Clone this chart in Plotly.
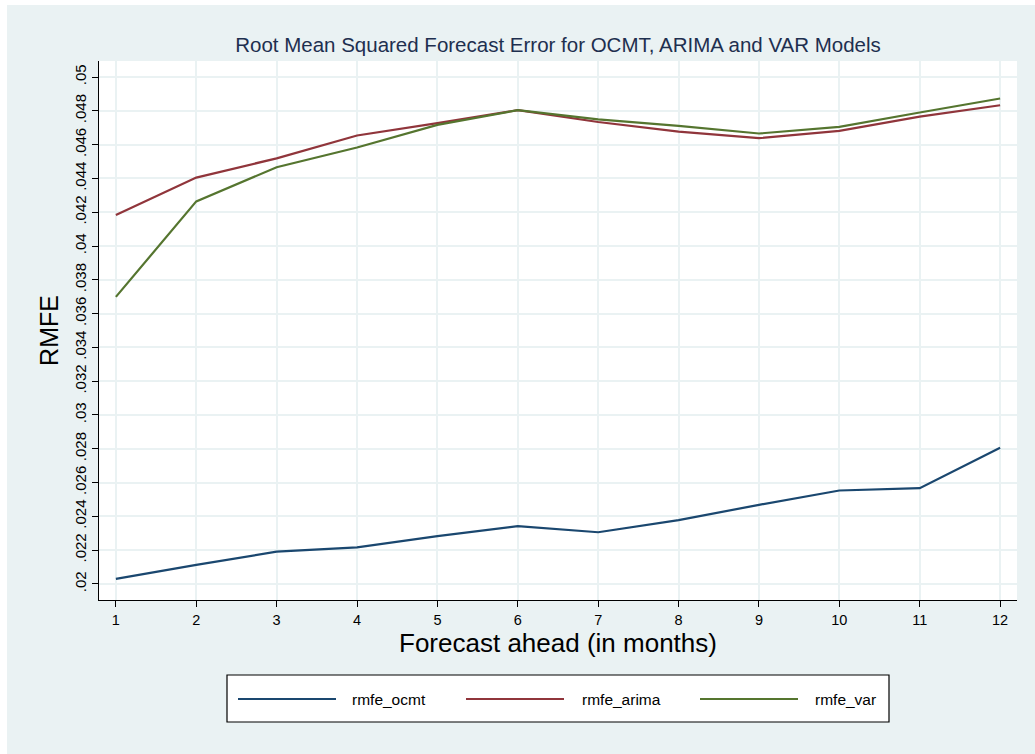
import plotly.graph_objects as go

horizons = list(range(1, 13))
rmfe_ocmt = [0.0203, 0.02113, 0.02191, 0.02217, 0.02283, 0.02342, 0.02306, 0.02378, 0.02468, 0.02553, 0.02567, 0.02806]
rmfe_arima = [0.04183, 0.04405, 0.04519, 0.04654, 0.04727, 0.04804, 0.04734, 0.04677, 0.04638, 0.04681, 0.04766, 0.04833]
rmfe_var = [0.03699, 0.04264, 0.04466, 0.04583, 0.04717, 0.04804, 0.0475, 0.04711, 0.04666, 0.04705, 0.0479, 0.04873]
series_names = ["rmfe_ocmt", "rmfe_arima", "rmfe_var"]
colors = ["#1A476F", "#90353B", "#55752F"]
ytick_vals = [0.02 + 0.002 * i for i in range(16)]
ytick_text = [".02", ".022", ".024", ".026", ".028", ".03", ".032", ".034", ".036", ".038",
              ".04", ".042", ".044", ".046", ".048", ".05"]

W, H = 1035, 754
ML, MR, MT, MB = 99, 18, 61, 154
PW = W - ML - MR
PH = H - MT - MB

def px_x(p):
    return (p - ML) / PW

def px_y(p):
    return 1 - (p - MT) / PH

BG = "#EAF2F3"
fig = go.Figure()
for name, vals, c in zip(series_names, [rmfe_ocmt, rmfe_arima, rmfe_var], colors):
    fig.add_trace(go.Scatter(x=horizons, y=vals, mode="lines", name=name,
                             line=dict(color=c, width=2.2), showlegend=False))

shapes = [
    # thin white strips at the top and left edges of the image
    dict(type="rect", xref="paper", yref="paper", x0=px_x(-5), x1=px_x(W + 5),
         y0=px_y(-5), y1=px_y(5), fillcolor="white", line=dict(width=0), layer="below"),
    dict(type="rect", xref="paper", yref="paper", x0=px_x(-5), x1=px_x(7),
         y0=px_y(-5), y1=px_y(H + 5), fillcolor="white", line=dict(width=0), layer="below"),
    # legend box
    dict(type="rect", xref="paper", yref="paper", x0=px_x(227), x1=px_x(889),
         y0=px_y(675), y1=px_y(722), fillcolor="white", line=dict(color="black", width=1.2)),
]
annotations = []
leg_line_x = [238, 466, 700]
leg_text_x = [350, 580, 813]
leg_y = 699
for i, name in enumerate(series_names):
    shapes.append(dict(type="line", xref="paper", yref="paper", x0=px_x(leg_line_x[i]),
                       x1=px_x(leg_line_x[i] + 98), y0=px_y(leg_y), y1=px_y(leg_y),
                       line=dict(color=colors[i], width=2.2)))
    annotations.append(dict(text=name, xref="paper", yref="paper", x=px_x(leg_text_x[i]),
                            y=px_y(leg_y), xanchor="left", yanchor="middle", showarrow=False,
                            font=dict(size=15.5, color="black")))

fig.update_layout(
    width=W, height=H,
    margin=dict(l=ML, r=MR, t=MT, b=MB, autoexpand=False),
    paper_bgcolor=BG, plot_bgcolor="white",
    font=dict(family="Liberation Sans, Arial, sans-serif", color="black"),
    title=dict(text="Root Mean Squared Forecast Error for OCMT, ARIMA and VAR Models",
               x=558 / W, xanchor="center", y=1 - 45 / H, yanchor="middle",
               font=dict(size=20.5, color="#1E2F4F")),
    shapes=shapes, annotations=annotations,
    xaxis=dict(range=[0.79, 12.21], tickvals=horizons, ticks="outside", ticklen=6,
               tickcolor="black", tickwidth=1.3, showline=True, linecolor="black", linewidth=1.3,
               showgrid=True, gridcolor=BG, gridwidth=1.6, zeroline=False,
               tickfont=dict(size=14.5), mirror=False,
               title=dict(text="Forecast ahead (in months)", font=dict(size=26), standoff=6)),
    yaxis=dict(range=[0.01905, 0.05095], tickvals=ytick_vals, ticktext=ytick_text,
               tickangle=-90, ticks="outside", ticklen=6, tickcolor="black", tickwidth=1.3,
               showline=True, linecolor="black", linewidth=1.3, showgrid=True, gridcolor=BG,
               gridwidth=1.6, zeroline=False, tickfont=dict(size=15),
               title=dict(text="RMFE", font=dict(size=25), standoff=6)),
)

fig.write_html("out.html", config={"displayModeBar": False},
               post_script="document.body.style.margin='0';document.body.style.padding='0';")
